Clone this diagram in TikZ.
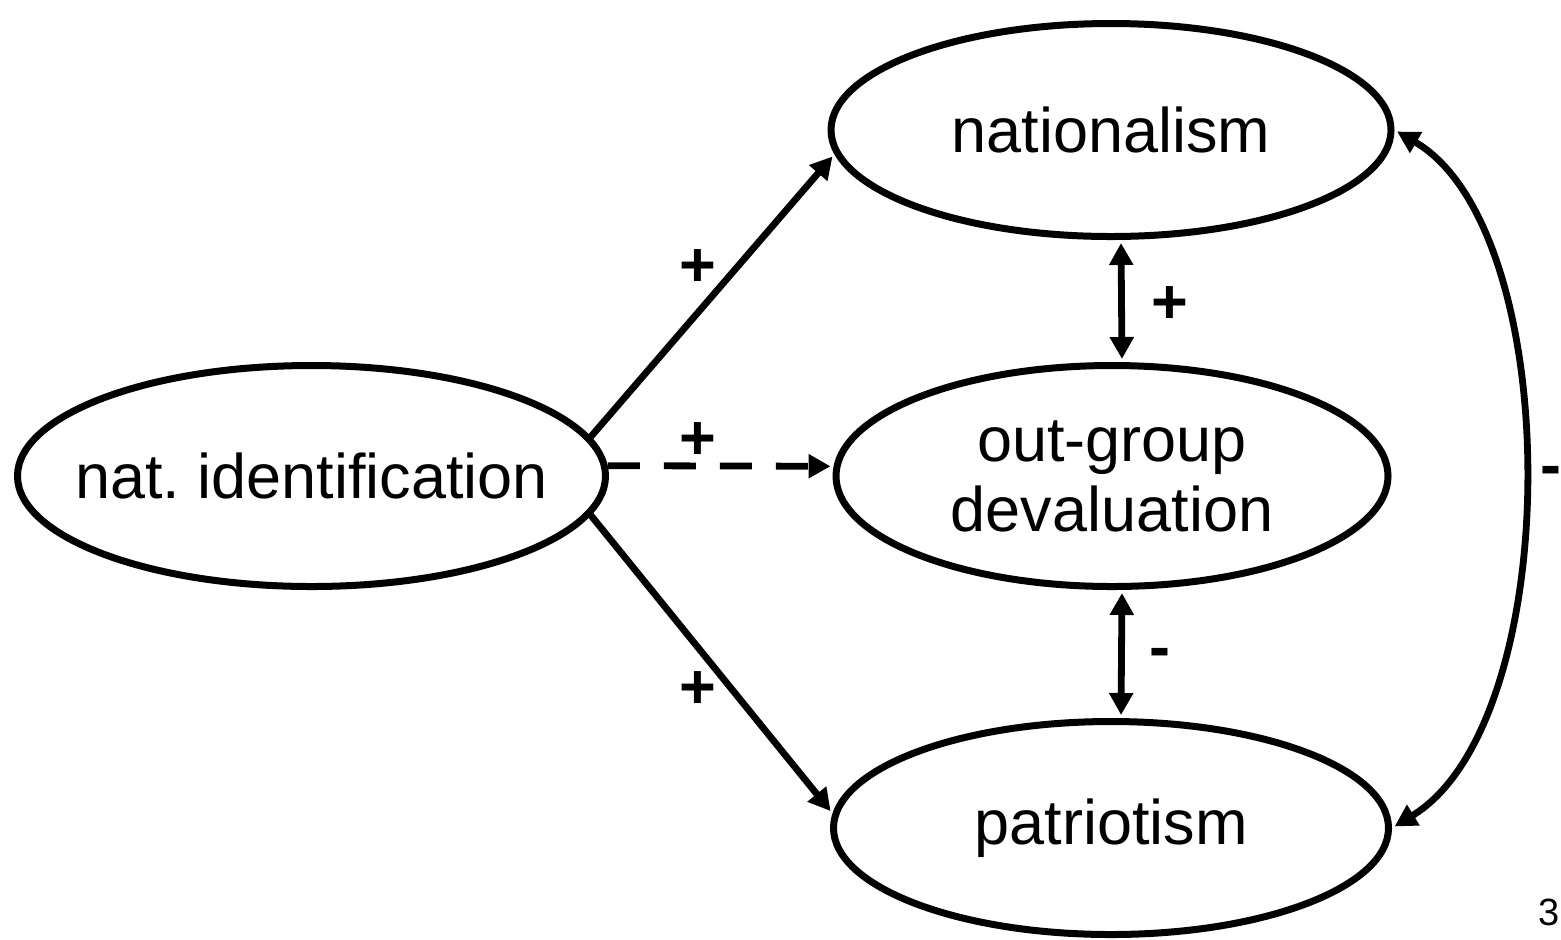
\documentclass[tikz,border=0pt]{standalone}
\usepackage{fontspec}
\setmainfont{Liberation Sans}
\usetikzlibrary{arrows.meta,shapes.geometric}
\frenchspacing

\tikzset{
  construct/.style={draw, ellipse, line width=3.5pt, inner sep=0pt, align=center, font=\fontsize{31.5}{35}\selectfont},
  sign/.style={inner sep=0pt, font=\fontsize{31.5}{35}\selectfont\bfseries},
  link/.style={line width=3.4pt, ->, shorten >=1.5pt},
}

\begin{document}
\begin{tikzpicture}[x=0.5pt, y=-0.5pt, >={Triangle[length=11pt, width=11.5pt]}]
  \useasboundingbox (0,0) rectangle (1561,939);
  \node[construct, minimum width=294pt, minimum height=110.5pt,
        label={[font=\fontsize{31.5}{35}\selectfont]center:nat. identification}] (natid) at (311.5,476) {};
  \node[construct, minimum width=280pt, minimum height=106.5pt] (nat) at (1111,130) {nationalism};
  \node[construct, minimum width=276pt, minimum height=110.5pt] (outgrp) at (1112,476) {out-group\\devaluation};
  \node[construct, minimum width=277.5pt, minimum height=106.5pt] (pat) at (1111,828) {patriotism};

  \draw[link] (natid.8) -- (nat.185);
  \draw[link, dash pattern=on 16pt off 12pt] (natid.2) -- (outgrp.178);
  \draw[link] (natid.-8) -- (pat.177);
  \draw[link, <->, shorten <=1.5pt] ([xshift=5pt]nat.south) -- ([xshift=5pt]outgrp.north);
  \draw[link, <->, shorten <=1.5pt] ([xshift=5pt]outgrp.south) -- ([xshift=5pt]pat.north);
  \draw[link, <->, shorten <=1.5pt] (nat.east) .. controls (1566,230) and (1566,722) .. (pat.east);

  \node[sign] at (698,268) {+};
  \node[sign] at (698,441) {+};
  \node[sign] at (698,690) {+};
  \node[sign] at (1170,305) {+};
  \node[sign, anchor=base] at (1160,668) {-};
  \node[sign, anchor=base west] at (1540,486) {-};
  \node[anchor=base west, inner sep=0pt, font=\fontsize{19}{22}\selectfont] (pagenum) at (1538,925) {3};
\end{tikzpicture}
\end{document}
